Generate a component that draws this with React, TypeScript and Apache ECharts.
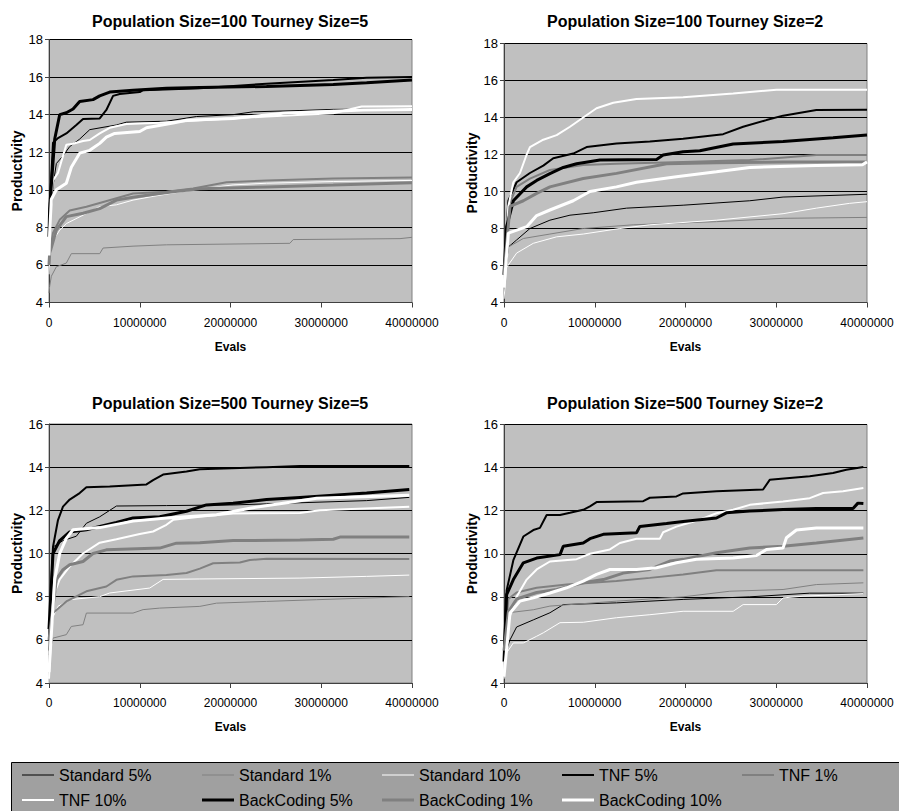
import React, { useEffect, useRef } from "react";
import * as echarts from "echarts";

const seriesNames = [
  "Standard 5%", "Standard 1%", "Standard 10%",
  "TNF 5%", "TNF 1%", "TNF 10%",
  "BackCoding 5%", "BackCoding 1%", "BackCoding 10%",
];
const panelTitles = [
  "Population Size=100 Tourney Size=5",
  "Population Size=100 Tourney Size=2",
  "Population Size=500 Tourney Size=5",
  "Population Size=500 Tourney Size=2",
];
const yMins = [4, 4, 4, 4];
const yMaxes = [18, 18, 16, 16];
const xTickMax = 40; // millions of evals
const xAxisTitle = "Evals";
const yAxisTitle = "Productivity";

// x in millions of evals, y productivity
// Population 100, Tourney 5
const p100t5_std5 = [[0,7],[0.07,8],[0.44,10.2],[0.81,11.4],[1.54,11.8],[2.28,12.3],[3.38,12.7],[4.49,13.2],[7.43,13.45],[8.53,13.6],[12.94,13.65],[16.25,13.9],[20.29,14.0],[22.5,14.15],[27.65,14.22],[31.32,14.28],[40,14.3]];
const p100t5_std1 = [[0,4.5],[0.07,4.85],[0.26,5.4],[0.81,5.9],[1.91,6.1],[2.46,6.6],[5.59,6.6],[5.96,6.9],[9.26,7.0],[12.94,7.07],[26.54,7.15],[26.91,7.35],[38.68,7.4],[40,7.47]];
const p100t5_std10 = [[0,5.5],[0.07,6.3],[0.44,7.3],[1.18,7.85],[1.91,8.2],[3.75,8.65],[5.59,9.1],[7.43,9.2],[9.26,9.45],[11.47,9.65],[15.88,10.0],[20.29,10.26],[23.97,10.35],[31.32,10.44],[40,10.5]];
const p100t5_tnf5 = [[0,7.5],[0.07,9],[0.44,12.5],[0.99,12.75],[1.91,13.0],[3.01,13.45],[3.75,13.77],[5.59,13.8],[6.32,14.25],[7.06,15.0],[7.79,15.1],[10.0,15.2],[10.37,15.3],[16.62,15.4],[23.97,15.65],[31.32,15.85],[35.0,15.97],[40,16.0]];
const p100t5_tnf1 = [[0,6],[0.07,6.6],[0.44,7.7],[1.18,8.4],[2.28,8.9],[4.12,9.1],[5.59,9.3],[9.26,9.8],[12.94,9.9],[15.88,10.07],[19.56,10.4],[23.97,10.5],[31.32,10.6],[40,10.65]];
const p100t5_tnf10 = [[0,7],[0.07,9.1],[0.44,10.5],[0.99,10.9],[1.91,12.4],[2.65,12.45],[3.75,12.6],[4.49,12.65],[5.59,13.0],[6.69,13.3],[8.53,13.5],[12.2,13.57],[16.62,13.7],[23.97,13.9],[31.32,14.07],[34.45,14.43],[40,14.45]];
const p100t5_bc5 = [[0,7.5],[0.07,9],[0.63,12.7],[1.18,14.0],[1.91,14.1],[2.65,14.3],[3.38,14.7],[4.85,14.8],[5.59,15.0],[6.69,15.2],[9.26,15.3],[12.94,15.4],[16.62,15.45],[23.97,15.5],[31.32,15.6],[35.0,15.7],[40,15.85]];
const p100t5_bc1 = [[0,6],[0.07,6.6],[0.81,7.85],[1.91,8.57],[3.75,8.75],[5.59,9.0],[7.43,9.45],[9.26,9.6],[12.2,9.8],[13.68,9.9],[16.62,10.05],[23.97,10.15],[31.32,10.25],[40,10.38]];
const p100t5_bc10 = [[0,6.5],[0.07,7.7],[0.26,9.5],[0.81,10.0],[1.91,10.35],[2.46,11.2],[3.38,11.95],[4.49,12.1],[5.59,12.47],[6.32,12.8],[7.24,13.0],[10.0,13.1],[10.74,13.3],[13.68,13.55],[15.15,13.7],[20.29,13.8],[25.81,14.07],[34.63,14.25],[40,14.28]];

// Population 100, Tourney 2
const p100t2_std5 = [[0,5],[0.48,7.0],[1.39,7.38],[2.86,8.0],[5.06,8.45],[7.27,8.72],[9.83,8.85],[13.5,9.1],[19.74,9.26],[27.08,9.5],[30.75,9.7],[40,9.85]];
const p100t2_std1 = [[0,5],[0.48,7.0],[2.13,7.46],[5.06,7.7],[8.73,8.0],[14.24,8.2],[23.41,8.37],[30.75,8.55],[40,8.6]];
const p100t2_std10 = [[0,4.2],[0.29,5.9],[1.39,6.67],[3.23,7.2],[5.8,7.55],[8.73,7.7],[12.77,8.0],[16.07,8.2],[23.41,8.45],[30.75,8.8],[34.42,9.1],[38.09,9.36],[40,9.45]];
const p100t2_tnf5 = [[0,5.5],[0.48,9.5],[1.39,10.5],[2.86,11.0],[4.33,11.4],[5.43,11.8],[7.63,12.05],[9.1,12.4],[12.4,12.6],[16.07,12.7],[19.74,12.85],[24.15,13.1],[26.35,13.5],[28.92,13.86],[30.75,14.1],[34.42,14.4],[40,14.42]];
const p100t2_tnf1 = [[0,5.5],[0.48,9.2],[1.39,10.25],[2.86,10.7],[5.06,11.16],[8.73,11.43],[12.4,11.5],[19.74,11.6],[27.08,11.7],[34.42,11.97],[40,11.97]];
const p100t2_tnf10 = [[0,5],[0.48,9.2],[1.03,10.5],[1.76,11.0],[2.5,12.0],[2.86,12.4],[4.33,12.8],[5.8,13.05],[7.27,13.5],[8.73,14.0],[10.2,14.5],[12.04,14.8],[14.6,15.0],[19.74,15.1],[25.25,15.3],[30.02,15.5],[40,15.5]];
const p100t2_bc5 = [[0,5.5],[0.29,8.1],[1.03,9.5],[2.5,10.25],[3.6,10.6],[5.06,10.97],[6.53,11.3],[8.0,11.5],[10.57,11.7],[16.81,11.73],[17.54,11.97],[19.74,12.15],[21.58,12.2],[25.25,12.57],[30.75,12.7],[36.26,12.9],[40,13.05]];
const p100t2_bc1 = [[0,5.5],[0.66,9.2],[2.13,9.5],[3.6,9.9],[5.06,10.25],[8.73,10.7],[12.4,10.98],[17.91,11.5],[23.41,11.55],[30.75,11.6],[40,11.6]];
const p100t2_bc10 = [[0,4.8],[0.48,7.75],[2.5,8.1],[3.6,8.7],[5.06,9.0],[7.63,9.5],[9.47,10.0],[12.4,10.25],[14.6,10.5],[19.0,10.8],[23.41,11.07],[27.08,11.3],[34.42,11.4],[39.5,11.45],[40,11.6]];

// Population 500, Tourney 5
const p500t5_std5 = [[0,6.5],[0.44,10.3],[1.54,10.6],[3.01,10.8],[4.12,11.4],[5.59,11.7],[7.43,12.2],[12.94,12.22],[20.29,12.25],[23.97,12.3],[35.0,12.45],[39.7,12.6]];
const p500t5_std1 = [[0,5.3],[0.44,6.08],[1.91,6.24],[2.46,6.62],[3.75,6.7],[4.12,7.24],[9.26,7.24],[10.37,7.4],[12.2,7.47],[16.62,7.55],[18.46,7.7],[23.97,7.78],[29.49,7.86],[39.7,8.0]];
const p500t5_std10 = [[0,4],[0.26,6.9],[0.99,7.55],[2.28,7.86],[5.59,8.0],[6.69,8.17],[11.1,8.4],[12.57,8.8],[16.62,8.82],[27.65,8.86],[35.0,8.94],[39.7,9.0]];
const p500t5_tnf5 = [[0,6],[0.44,10.3],[0.99,11.55],[1.54,12.17],[2.28,12.5],[3.38,12.8],[4.12,13.07],[6.69,13.1],[10.74,13.2],[11.47,13.4],[12.57,13.66],[15.15,13.8],[16.62,13.9],[23.97,14.0],[27.65,14.05],[39.7,14.05]];
const p500t5_tnf1 = [[0,5.5],[0.44,7.24],[1.91,7.78],[4.12,8.25],[6.32,8.47],[7.43,8.78],[9.26,8.94],[12.94,9.0],[15.15,9.1],[16.62,9.3],[18.09,9.55],[21.03,9.58],[22.13,9.7],[23.97,9.76],[39.7,9.74]];
const p500t5_tnf10 = [[0,4.2],[0.44,8.0],[1.18,8.8],[2.28,9.4],[3.75,10.0],[5.59,10.5],[7.43,10.66],[10.0,10.9],[11.47,11.02],[12.94,11.33],[13.68,11.56],[16.62,11.7],[20.29,11.85],[27.65,11.88],[29.85,12.0],[39.7,12.17]];
const p500t5_bc5 = [[0,6.5],[0.44,10.0],[1.18,10.6],[2.28,11.0],[4.12,11.1],[7.43,11.44],[9.26,11.65],[12.2,11.7],[15.15,11.96],[17.35,12.25],[20.29,12.33],[23.97,12.5],[27.65,12.6],[31.32,12.7],[35.0,12.8],[39.7,12.97]];
const p500t5_bc1 = [[0,6],[0.81,8.8],[1.54,9.25],[2.28,9.48],[3.75,9.63],[4.85,10.0],[6.32,10.17],[12.2,10.25],[14.04,10.48],[16.62,10.5],[20.29,10.6],[27.65,10.62],[31.32,10.66],[32.06,10.76],[39.7,10.76]];
const p500t5_bc10 = [[0,4.5],[0.63,8.8],[1.18,10.0],[1.91,10.7],[2.65,11.1],[5.59,11.2],[9.26,11.5],[12.94,11.64],[18.46,11.8],[22.13,12.1],[25.81,12.33],[29.49,12.56],[39.7,12.7]];

// Population 500, Tourney 2
const p500t2_std5 = [[0,5.2],[0.66,6.0],[1.39,6.6],[3.23,6.93],[5.06,7.26],[6.53,7.64],[12.4,7.72],[19.74,7.88],[27.08,8.0],[33.69,8.17],[39.6,8.17]];
const p500t2_std1 = [[0,6],[0.48,7.26],[3.23,7.4],[5.06,7.57],[12.4,7.8],[19.74,8.0],[24.88,8.26],[30.75,8.34],[34.42,8.57],[39.6,8.65]];
const p500t2_std10 = [[0,4.2],[0.29,5.4],[1.03,5.86],[2.13,5.86],[3.6,6.17],[4.33,6.33],[6.17,6.8],[8.73,6.82],[12.4,7.03],[16.07,7.17],[19.74,7.33],[25.25,7.33],[26.35,7.64],[30.02,7.64],[30.75,7.95],[32.95,8.03],[39.6,8.15]];
const p500t2_tnf5 = [[0,5.5],[0.29,8.3],[1.03,9.7],[2.13,10.8],[3.23,11.1],[3.96,11.2],[4.7,11.8],[6.17,11.8],[7.27,11.9],[8.73,12.04],[9.47,12.2],[10.2,12.4],[15.34,12.44],[16.07,12.6],[19.0,12.66],[19.74,12.8],[23.41,12.9],[28.55,12.98],[29.28,13.43],[33.69,13.6],[36.26,13.75],[37.72,13.9],[39.6,14.03]];
const p500t2_tnf1 = [[0,5.5],[0.48,7.9],[1.39,8.2],[3.6,8.42],[6.9,8.57],[12.4,8.73],[16.07,8.88],[19.74,9.04],[23.41,9.23],[39.6,9.23]];
const p500t2_tnf10 = [[0,4.5],[0.48,6.9],[1.39,8.0],[2.5,8.8],[3.6,9.27],[5.06,9.64],[8.0,9.75],[9.47,10.0],[11.67,10.2],[12.77,10.5],[14.6,10.7],[17.17,10.7],[17.54,11.0],[19.0,11.26],[21.58,11.58],[23.41,11.88],[25.25,12.04],[27.08,12.27],[30.75,12.43],[33.69,12.58],[35.16,12.82],[37.36,12.9],[39.6,13.05]];
const p500t2_bc5 = [[0,5],[0.29,8.1],[1.03,8.8],[2.13,9.58],[3.6,9.8],[6.17,9.96],[6.53,10.35],[8.73,10.5],[9.47,10.7],[10.94,10.9],[14.6,10.97],[14.97,11.27],[17.91,11.4],[19.74,11.5],[23.41,11.66],[24.51,11.9],[27.08,11.98],[30.75,12.05],[34.42,12.1],[38.46,12.1],[39.0,12.35],[39.6,12.33]];
const p500t2_bc1 = [[0,5.5],[0.48,7.3],[1.39,7.9],[3.6,8.2],[5.8,8.34],[8.73,8.65],[10.94,8.8],[13.14,9.1],[16.07,9.27],[18.28,9.66],[19.74,9.74],[23.41,10.05],[27.08,10.27],[30.75,10.35],[34.42,10.5],[39.6,10.73]];
const p500t2_bc10 = [[0,4.3],[0.66,7.25],[1.76,7.8],[3.23,7.95],[5.06,8.18],[6.9,8.42],[8.73,8.73],[10.2,9.04],[11.67,9.27],[14.6,9.27],[16.81,9.35],[19.0,9.58],[21.21,9.74],[25.25,9.8],[27.82,9.92],[28.92,10.2],[30.75,10.27],[31.12,10.74],[32.22,11.1],[34.42,11.2],[39.6,11.2]];

const panelData = [
  [p100t5_std5, p100t5_std1, p100t5_std10, p100t5_tnf5, p100t5_tnf1, p100t5_tnf10, p100t5_bc5, p100t5_bc1, p100t5_bc10],
  [p100t2_std5, p100t2_std1, p100t2_std10, p100t2_tnf5, p100t2_tnf1, p100t2_tnf10, p100t2_bc5, p100t2_bc1, p100t2_bc10],
  [p500t5_std5, p500t5_std1, p500t5_std10, p500t5_tnf5, p500t5_tnf1, p500t5_tnf10, p500t5_bc5, p500t5_bc1, p500t5_bc10],
  [p500t2_std5, p500t2_std1, p500t2_std10, p500t2_tnf5, p500t2_tnf1, p500t2_tnf10, p500t2_bc5, p500t2_bc1, p500t2_bc10],
];

const FONT = "'Liberation Sans', Arial, Helvetica, sans-serif";
const lineColors = ["#000000", "#808080", "#ffffff", "#000000", "#808080", "#ffffff", "#000000", "#808080", "#ffffff"];
const lineWidths = [1, 1, 1, 2, 2, 2, 3, 3, 3];
const legendLineWidths = [1, 1, 1, 2, 2, 2, 3, 3, 3];

const gridBoxes = [
  { left: 49, top: 39.5, width: 363, height: 263 },
  { left: 504, top: 43.5, width: 363, height: 259 },
  { left: 49, top: 424, width: 363, height: 259 },
  { left: 504, top: 424.5, width: 363, height: 258.5 },
];
const titlePos = [
  { left: 92, top: 13 },
  { left: 547, top: 13 },
  { left: 92, top: 395 },
  { left: 547, top: 395 },
];

function buildOption() {
  const grid = gridBoxes.map((g) => ({
    ...g,
    show: true,
    backgroundColor: "#c0c0c0",
    borderColor: "#808080",
    borderWidth: 1,
  }));
  const title = panelTitles.map((t, i) => ({
    text: t,
    left: titlePos[i].left,
    top: titlePos[i].top,
    padding: 0,
    textStyle: { fontFamily: FONT, fontSize: 16, fontWeight: "bold", color: "#000" },
  }));
  const xAxis = panelTitles.map((_, i) => ({
    type: "value",
    gridIndex: i,
    min: 0,
    max: xTickMax,
    interval: 10,
    name: xAxisTitle,
    nameLocation: "middle",
    nameGap: 38,
    nameTextStyle: { fontFamily: FONT, fontSize: 12, fontWeight: "bold", color: "#000" },
    axisLine: { show: true, onZero: false, lineStyle: { color: "#404040", width: 1 } },
    axisTick: { show: true, inside: false, length: 5, lineStyle: { color: "#404040" } },
    axisLabel: {
      margin: 14,
      fontFamily: FONT,
      fontSize: 12,
      color: "#000",
      formatter: (v: number) => String(Math.round(v * 1000000)),
    },
    splitLine: { show: false },
  }));
  const yAxis = panelTitles.map((_, i) => ({
    type: "value",
    gridIndex: i,
    min: yMins[i],
    max: yMaxes[i],
    interval: 2,
    name: yAxisTitle,
    nameLocation: "middle",
    nameRotate: 90,
    nameGap: 25,
    nameTextStyle: { fontFamily: FONT, fontSize: 14, fontWeight: "bold", color: "#000" },
    axisLine: { show: true, onZero: false, lineStyle: { color: "#404040", width: 1 } },
    axisTick: { show: true, inside: false, length: 4, lineStyle: { color: "#404040" } },
    axisLabel: { margin: 6, fontFamily: FONT, fontSize: 13, color: "#000" },
    splitLine: { show: true, lineStyle: { color: "#000", width: 1 } },
  }));
  const series: any[] = [];
  panelData.forEach((list, pi) => {
    list.forEach((data, si) => {
      series.push({
        type: "line",
        name: seriesNames[si],
        xAxisIndex: pi,
        yAxisIndex: pi,
        data,
        symbol: "none",
        showSymbol: false,
        silent: true,
        emphasis: { disabled: true },
        lineStyle: { color: lineColors[si], width: lineWidths[si] },
        itemStyle: { color: lineColors[si] },
        z: 2 + si * 0.01,
      });
    });
  });
  const legend = seriesNames.map((name, i) => {
    const row = Math.floor(i / 5);
    const col = i % 5;
    const h = legendLineWidths[i];
    const rowCenter = row === 0 ? 776 : 801;
    return {
      data: [{ name, icon: "rect" }],
      left: 22 + col * 180,
      top: rowCenter - 9,
      padding: 0,
      itemWidth: 32,
      itemHeight: h,
      selectedMode: false,
      itemStyle: { color: lineColors[i], borderWidth: 0 },
      textStyle: { fontFamily: FONT, fontSize: 16, color: "#000" },
    };
  });
  const graphic = [
    {
      type: "rect",
      z: 0,
      shape: { x: 11.5, y: 762.5, width: 900, height: 60 },
      style: { fill: "#a0a0a0", stroke: "#000", lineWidth: 1 },
      silent: true,
    },
  ];
  return {
    animation: false,
    backgroundColor: "#ffffff",
    title,
    grid,
    xAxis,
    yAxis,
    legend,
    graphic,
    series,
  };
}

export default function App() {
  const ref = useRef<HTMLDivElement>(null);
  useEffect(() => {
    if (!ref.current) return;
    const chart = echarts.init(ref.current, undefined, { renderer: "svg" });
    chart.setOption(buildOption() as any);
    return () => chart.dispose();
  }, []);
  return (
    <div
      ref={ref}
      style={{ position: "absolute", left: 0, top: 0, width: 899, height: 811 }}
    />
  );
}
